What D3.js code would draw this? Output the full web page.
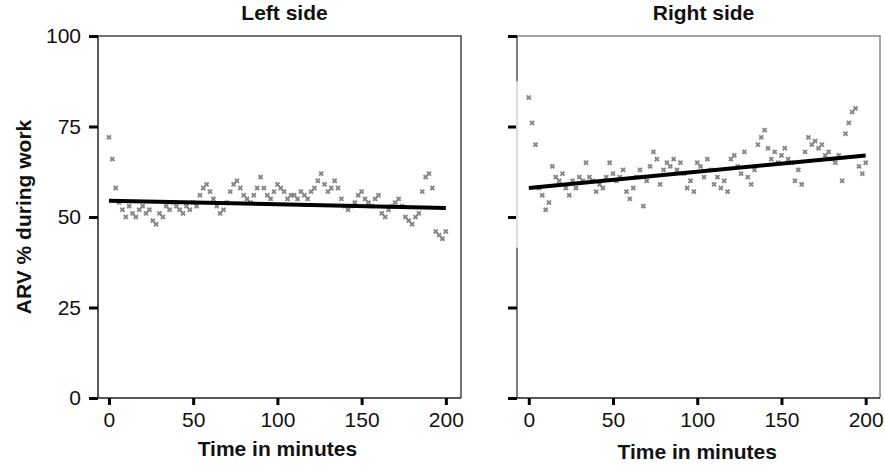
<!DOCTYPE html>
<html>
<head>
<meta charset="utf-8">
<script src="https://cdn.jsdelivr.net/npm/d3@7"></script>
<style>
  body { margin: 0; background: #fff; }
  text { font-family: "Liberation Sans", Arial, sans-serif; fill: #111; }
</style>
</head>
<body>
<div id="chart"></div>
<script>
let width = 885,
    height = 467;

// minutes for every sampled point (every 2 min)
const minutes = d3.range(0, 201, 2);

const leftValues = [72, 66, 58, 54, 52, 50, 53, 51, 50, 52, 53, 51, 52, 49, 48, 51, 50, 53, 52, 54,
  53, 52, 51, 53, 52, 54, 53, 56, 58, 59, 57, 55, 53, 51, 52, 54, 57, 59, 60, 58,
  56, 55, 54, 56, 58, 61, 58, 56, 55, 57, 59, 58, 57, 55, 56, 56, 55, 57, 56, 55,
  57, 58, 60, 62, 59, 57, 58, 60, 58, 55, 53, 52, 53, 54, 56, 57, 55, 54, 53, 55,
  56, 51, 50, 52, 53, 54, 55, 53, 50, 49, 48, 50, 51, 57, 61, 62, 58, 46, 45, 44, 46];

const rightValues = [83, 76, 70, 58, 56, 52, 54, 64, 61, 60, 62, 58, 56, 60, 58, 61, 60, 65, 61, 60,
  57, 59, 58, 61, 65, 62, 60, 61, 63, 57, 55, 58, 61, 63, 53, 60, 64, 68, 66, 59,
  63, 65, 64, 66, 63, 65, 62, 58, 60, 57, 65, 64, 61, 66, 63, 59, 61, 58, 60, 57,
  66, 67, 64, 62, 68, 61, 59, 63, 70, 72, 74, 69, 66, 68, 65, 67, 69, 66, 65, 60,
  63, 59, 68, 72, 70, 71, 69, 70, 67, 68, 66, 65, 67, 60, 73, 76, 79, 80, 64, 62, 65];

// fitted regression line: value at 0 and at 200 min
const fitMinutes = [0, 200];
const leftFit = [54.5, 52.5];
const rightFit = [58, 67];

const xTicks = [0, 50, 100, 150, 200];
const yTicks = [0, 25, 50, 75, 100];

const svg = d3.select("#chart")
  .append("svg")
  .attr("width", width)
  .attr("height", height)
  .attr("viewBox", [0, 0, width, height]);

let y = d3.scaleLinear()
  .domain([0, 100])
  .range([398, 36]);

const panels = [
  { title: "Left side", values: leftValues, fit: leftFit, x0: 98, x1: 461, domain: [-6.5, 209], labels: true, edge: "#444", titleY: 456 },
  { title: "Right side", values: rightValues, fit: rightFit, x0: 517, x1: 880, domain: [-7, 208.5], labels: false, edge: "#888", titleY: 459 }
];

for (let p of panels) {
  let x = d3.scaleLinear()
    .domain(p.domain)
    .range([p.x0, p.x1]);

  let g = svg.append("g");

  // frame top and right
  g.append("path")
    .attr("d", `M${p.x0},${y(100)}H${p.x1}V${y(0)}`)
    .attr("fill", "none")
    .attr("stroke", p.edge)
    .attr("stroke-width", 1.5);

  // y axis
  g.append("g")
    .attr("transform", `translate(${p.x0},0)`)
    .call(d3.axisLeft(y)
      .tickValues(yTicks)
      .tickSize(9)
      .tickPadding(8)
      .tickFormat(p.labels ? d3.format("d") : "")
    )
    .call(a => a.select(".domain").attr("stroke", p.labels ? "#222" : "#555").attr("stroke-width", 1.5).attr("d", `M0,${y(0)}V${y(100)}`))
    .call(a => a.selectAll(".tick line").attr("stroke", "#000").attr("stroke-width", 3))
    .call(a => a.selectAll(".tick text").attr("font-size", 21).attr("fill", "#111"));

  // the scatter image in the right panel covers part of its axis line
  if (!p.labels) {
    g.append("line")
      .attr("x1", p.x0).attr("x2", p.x0)
      .attr("y1", y(87.5)).attr("y2", y(41.5))
      .attr("stroke", "#ddd")
      .attr("stroke-width", 2);
  }

  // x axis
  g.append("g")
    .attr("transform", `translate(0,${y(0)})`)
    .call(d3.axisBottom(x)
      .tickValues(xTicks)
      .tickSize(7)
      .tickPadding(7)
      .tickFormat(d3.format("d"))
    )
    .call(a => a.select(".domain").attr("stroke", "#222").attr("stroke-width", 1.5).attr("d", `M${p.x0},0H${p.x1}`))
    .call(a => a.selectAll(".tick line").attr("stroke", "#000").attr("stroke-width", 3))
    .call(a => a.selectAll(".tick text").attr("font-size", 21).attr("fill", "#111"));

  // scatter points
  const sym = d3.symbol().type(d3.symbolCross).size(18);
  g.append("g")
    .selectAll("path")
    .data(p.values)
    .join("path")
    .attr("d", sym)
    .attr("transform", (d, i) => `translate(${x(minutes[i])},${y(d)}) rotate(45)`)
    .attr("fill", "#5e5e5e")
    .attr("opacity", 0.75);

  // regression line
  let line = d3.line()
    .x((d, i) => x(fitMinutes[i]))
    .y(d => y(d));

  g.append("path")
    .datum(p.fit)
    .attr("fill", "none")
    .attr("stroke", "#000")
    .attr("stroke-width", 4)
    .attr("d", line);

  // panel title
  g.append("text")
    .text(p.title)
    .attr("x", (p.x0 + p.x1) / 2 + 5)
    .attr("y", 20)
    .attr("text-anchor", "middle")
    .attr("font-size", 21)
    .attr("font-weight", "bold");

  // x axis title
  g.append("text")
    .text("Time in minutes")
    .attr("x", x(100))
    .attr("y", p.titleY)
    .attr("text-anchor", "middle")
    .attr("font-size", 21)
    .attr("font-weight", "bold");
}

// y axis title
svg.append("text")
  .text("ARV % during work")
  .attr("transform", `translate(31,${y(50)}) rotate(-90)`)
  .attr("text-anchor", "middle")
  .attr("font-size", 21)
  .attr("font-weight", "bold");
</script>
</body>
</html>
